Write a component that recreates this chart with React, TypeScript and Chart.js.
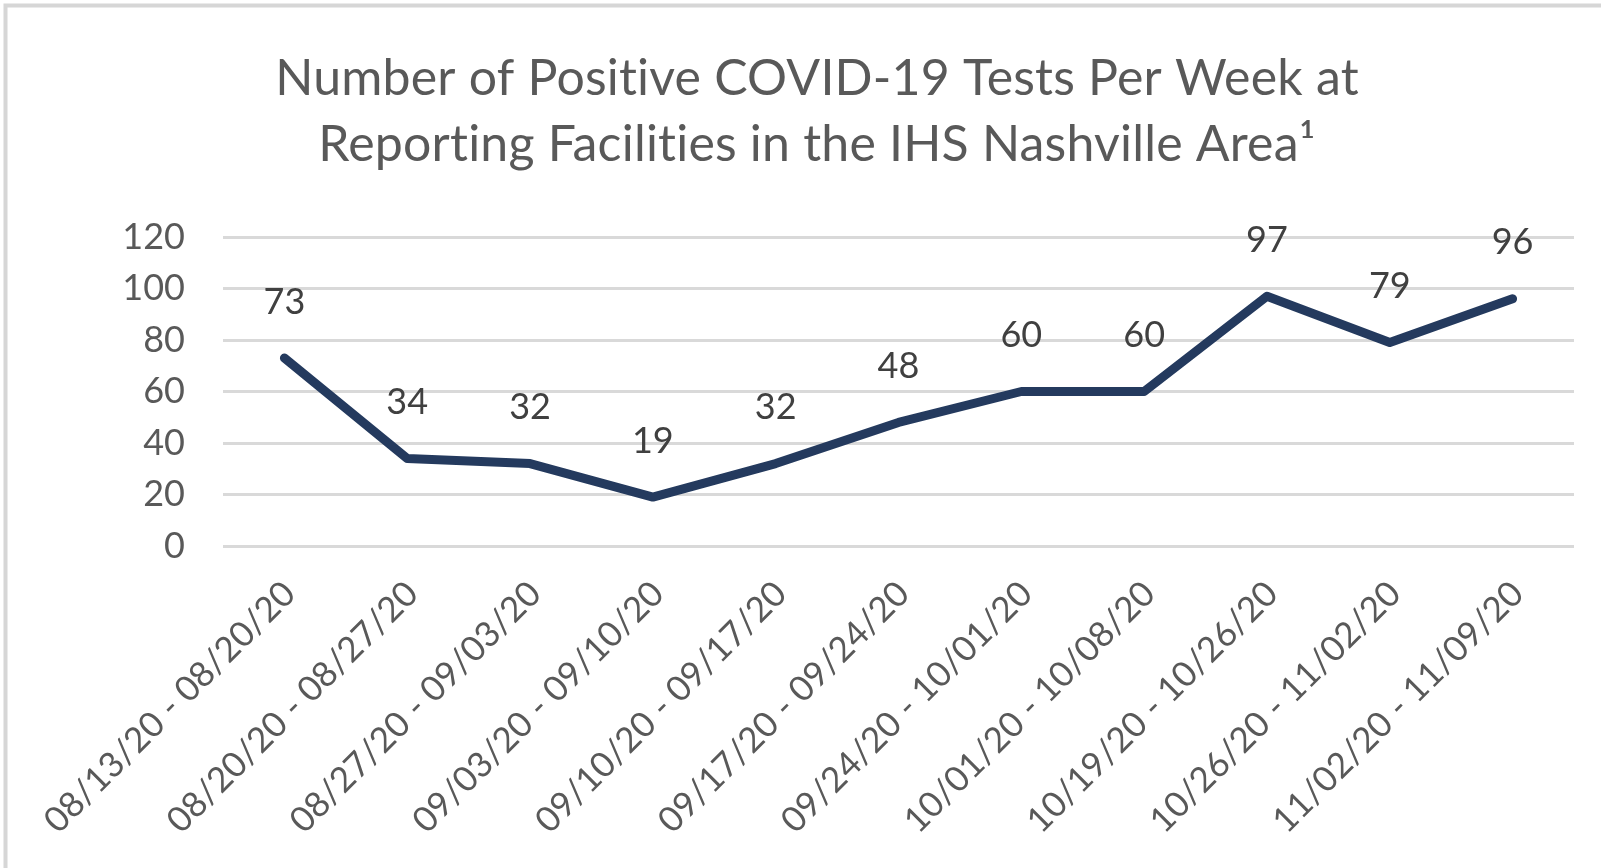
import React, { useEffect, useRef } from "react";
import { Chart, registerables } from "chart.js";

Chart.register(...registerables);

const weekLabels = [
  "08/13/20 - 08/20/20",
  "08/20/20 - 08/27/20",
  "08/27/20 - 09/03/20",
  "09/03/20 - 09/10/20",
  "09/10/20 - 09/17/20",
  "09/17/20 - 09/24/20",
  "09/24/20 - 10/01/20",
  "10/01/20 - 10/08/20",
  "10/19/20 - 10/26/20",
  "10/26/20 - 11/02/20",
  "11/02/20 - 11/09/20",
];

const positiveTests = [73, 34, 32, 19, 32, 48, 60, 60, 97, 79, 96];

const yMin = 0;
const yMax = 120;
const yStep = 20;

const titleLines = [
  "Number of Positive COVID-19 Tests Per Week at",
  "Reporting Facilities in the IHS Nashville Area\u00B9",
];

const FONT = "Lato, 'Open Sans', sans-serif";
const TEXT_GREY = "#595959";
const LABEL_GREY = "#404040";
const GRID_GREY = "#d9d9d9";
const LINE_NAVY = "#243a5e";

const framePlugin = {
  id: "frame",
  beforeDraw(chart: any) {
    const ctx = chart.ctx;
    ctx.save();
    ctx.fillStyle = "#ffffff";
    ctx.fillRect(0, 0, chart.width, chart.height);
    ctx.strokeStyle = "#d6d6d6";
    ctx.lineWidth = 4;
    ctx.beginPath();
    ctx.moveTo(5.5, chart.height);
    ctx.lineTo(5.5, 5.5);
    ctx.lineTo(chart.width, 5.5);
    ctx.stroke();
    ctx.restore();
  },
};

const titlePlugin = {
  id: "twoLineTitle",
  afterDraw(chart: any) {
    const ctx = chart.ctx;
    ctx.save();
    ctx.fillStyle = TEXT_GREY;
    ctx.font = `50px ${FONT}`;
    try {
      (ctx as any).letterSpacing = "0.2px";
    } catch (e) {}
    ctx.textAlign = "center";
    ctx.textBaseline = "alphabetic";
    ctx.fillText(titleLines[0], 817, 95);
    ctx.fillText(titleLines[1], 817, 161);
    ctx.restore();
  },
};

const valueLabelPlugin = {
  id: "valueLabels",
  afterDatasetsDraw(chart: any) {
    const ctx = chart.ctx;
    const meta = chart.getDatasetMeta(0);
    ctx.save();
    ctx.fillStyle = LABEL_GREY;
    ctx.font = `36px ${FONT}`;
    ctx.textAlign = "center";
    ctx.textBaseline = "middle";
    meta.data.forEach((pt: any, i: number) => {
      ctx.fillText(String(positiveTests[i]), pt.x, pt.y - 56);
    });
    ctx.restore();
  },
};

export default function App() {
  const canvasRef = useRef<HTMLCanvasElement | null>(null);

  useEffect(() => {
    if (!canvasRef.current) return;
    const chart = new Chart(canvasRef.current, {
      type: "line",
      data: {
        labels: weekLabels,
        datasets: [
          {
            data: positiveTests,
            borderColor: LINE_NAVY,
            borderWidth: 9,
            borderCapStyle: "round",
            borderJoinStyle: "round",
            pointRadius: 0,
            pointHoverRadius: 0,
            fill: false,
            tension: 0,
          },
        ],
      },
      options: {
        responsive: false,
        animation: false,
        events: [],
        layout: { padding: { top: 237, right: 27, bottom: 0, left: 0 } },
        plugins: {
          legend: { display: false },
          title: { display: false },
          tooltip: { enabled: false },
        },
        scales: {
          x: {
            offset: true,
            grid: { display: false, drawTicks: false },
            border: { display: false },
            ticks: {
              autoSkip: false,
              minRotation: 45,
              maxRotation: 45,
              padding: 27,
              labelOffset: 5,
              color: TEXT_GREY,
              font: { family: FONT, size: 35 },
            },
            afterFit: (s: any) => {
              s.height = 322;
              s.paddingLeft = 0;
              s.paddingRight = 0;
            },
          },
          y: {
            min: yMin,
            max: yMax,
            ticks: {
              stepSize: yStep,
              padding: 38,
              color: TEXT_GREY,
              font: { family: FONT, size: 36 },
            },
            grid: { color: GRID_GREY, lineWidth: 3, drawTicks: false },
            border: { display: false },
            afterFit: (s: any) => {
              s.width = 223;
              s.paddingTop = 0;
              s.paddingBottom = 0;
            },
          },
        },
      },
      plugins: [framePlugin, titlePlugin, valueLabelPlugin],
    });
    return () => chart.destroy();
  }, []);

  return (
    <div style={{ position: "absolute", left: 0, top: 0, width: 1601, height: 868 }}>
      <canvas ref={canvasRef} width={1601} height={868} style={{ display: "block" }} />
    </div>
  );
}
